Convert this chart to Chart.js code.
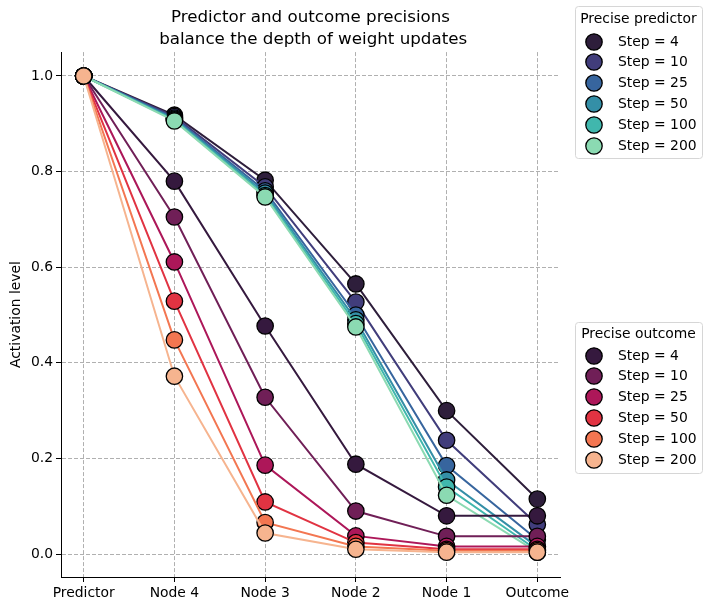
<!DOCTYPE html>
<html><head><meta charset="utf-8">
<script src="https://cdn.jsdelivr.net/npm/chart.js@4/dist/chart.umd.min.js"></script>
<style>html,body{margin:0;padding:0;background:#fff;}#wrap{width:712px;height:611px;position:relative;}</style>
</head><body><div id="wrap"><canvas id="c" width="712" height="611"></canvas></div>
<script>
const categories = ['Predictor', 'Node 4', 'Node 3', 'Node 2', 'Node 1', 'Outcome'];
const steps = [4, 10, 25, 50, 100, 200];
const yTicks = [0, 0.2, 0.4, 0.6, 0.8, 1.0];

const predStep4   = [1, 0.918, 0.782, 0.565, 0.300, 0.115];
const predStep10  = [1, 0.915, 0.768, 0.527, 0.238, 0.062];
const predStep25  = [1, 0.912, 0.760, 0.500, 0.185, 0.030];
const predStep50  = [1, 0.910, 0.755, 0.490, 0.155, 0.015];
const predStep100 = [1, 0.908, 0.750, 0.482, 0.140, 0.008];
const predStep200 = [1, 0.906, 0.747, 0.475, 0.123, 0.004];

const outStep4   = [1, 0.780, 0.477, 0.188, 0.080, 0.080];
const outStep10  = [1, 0.705, 0.328, 0.090, 0.037, 0.037];
const outStep25  = [1, 0.611, 0.186, 0.038, 0.016, 0.016];
const outStep50  = [1, 0.529, 0.109, 0.024, 0.010, 0.010];
const outStep100 = [1, 0.448, 0.066, 0.016, 0.007, 0.007];
const outStep200 = [1, 0.372, 0.044, 0.010, 0.004, 0.004];

const predColors = ['#2e1e3b', '#413d7b', '#37659e', '#348fa7', '#40b7ad', '#8bdab2'];
const outColors  = ['#35193e', '#701f57', '#ad1759', '#e13342', '#f37651', '#f6b48f'];

const predSeries = [predStep4, predStep10, predStep25, predStep50, predStep100, predStep200];
const outSeries  = [outStep4, outStep10, outStep25, outStep50, outStep100, outStep200];

const FONT = "'DejaVu Sans', sans-serif";
const datasets = [];
let k = 0;
function addGroup(series, colors, group) {
  series.forEach((vals, i) => {
    datasets.push({
      label: 'Step = ' + steps[i],
      group: group,
      data: vals.map((v, j) => ({x: j, y: v})),
      borderColor: colors[i],
      backgroundColor: colors[i],
      pointBackgroundColor: colors[i],
      pointBorderColor: '#000',
      pointBorderWidth: 1.3,
      pointRadius: 8.2,
      pointHoverRadius: 8.2,
      borderWidth: 2,
      tension: 0,
      order: 12 - k
    });
    k++;
  });
}
addGroup(predSeries, predColors, 'Precise predictor');
addGroup(outSeries, outColors, 'Precise outcome');

const legendPlugin = {
  id: 'twoLegends',
  afterDraw(chart) {
    const ctx = chart.ctx;
    const boxes = [
      {title: 'Precise predictor', group: 'Precise predictor', top: 6, bottom: 158, titleY: 19, rows: [42, 62, 83, 104, 125, 146]},
      {title: 'Precise outcome', group: 'Precise outcome', top: 322, bottom: 473, titleY: 334, rows: [356, 376, 397, 418, 439, 460]}
    ];
    const left = 575, right = 702;
    boxes.forEach(b => {
      ctx.save();
      ctx.beginPath();
      ctx.roundRect(left + 0.5, b.top + 0.5, right - left, b.bottom - b.top, 3);
      ctx.fillStyle = 'rgba(255,255,255,0.8)';
      ctx.fill();
      ctx.strokeStyle = '#d6d6d6';
      ctx.lineWidth = 1;
      ctx.stroke();
      ctx.fillStyle = '#000';
      ctx.font = '13.9px ' + FONT;
      ctx.textAlign = 'center';
      ctx.textBaseline = 'middle';
      ctx.fillText(b.title, (left + right) / 2, b.titleY);
      const ds = chart.data.datasets.filter(d => d.group === b.group);
      ds.forEach((d, i) => {
        const y = b.rows[i];
        ctx.beginPath();
        ctx.arc(594, y, 8.2, 0, Math.PI * 2);
        ctx.fillStyle = d.pointBackgroundColor;
        ctx.fill();
        ctx.lineWidth = 1.3;
        ctx.strokeStyle = '#000';
        ctx.stroke();
        ctx.fillStyle = '#000';
        ctx.textAlign = 'left';
        ctx.fillText(d.label, 618, y);
      });
      ctx.restore();
    });
  }
};

new Chart(document.getElementById('c'), {
  type: 'line',
  data: {datasets: datasets},
  options: {
    responsive: false,
    animation: false,
    events: [],
    layout: {padding: {left: 0, right: 152, top: 0, bottom: 0}},
    plugins: {
      legend: {display: false},
      tooltip: {enabled: false},
      title: {
        display: true,
        fullSize: false,
        text: ['Predictor and outcome precisions', ' balance the depth of weight updates'],
        color: '#000',
        font: {family: FONT, size: 16.7, weight: 'normal', lineHeight: 1.32},
        padding: {top: 7, bottom: 1}
      }
    },
    scales: {
      x: {
        type: 'linear',
        min: -0.25,
        max: 5.25,
        afterBuildTicks: s => { s.ticks = categories.map((c, i) => ({value: i})); },
        afterFit: s => { s.height = 34; },
        ticks: {
          color: '#000',
          font: {family: FONT, size: 13.9},
          padding: 3,
          maxRotation: 0,
          autoSkip: false,
          callback: v => categories[v]
        },
        grid: {color: '#b0b0b0', lineWidth: 1, tickLength: 5, tickColor: '#000', tickBorderDash: [], offset: false},
        border: {display: true, color: '#000', width: 1, dash: [4, 2]}
      },
      y: {
        type: 'linear',
        min: -0.048,
        max: 1.05,
        afterBuildTicks: s => { s.ticks = yTicks.map(v => ({value: v})); },
        afterFit: s => { s.width = 61; },
        title: {
          display: true,
          text: 'Activation level',
          color: '#000',
          font: {family: FONT, size: 13.9},
          padding: {top: 8, bottom: 0}
        },
        ticks: {
          color: '#000',
          font: {family: FONT, size: 13.9},
          padding: 3,
          callback: v => v.toFixed(1)
        },
        grid: {color: '#b0b0b0', lineWidth: 1, tickLength: 5, tickColor: '#000', tickBorderDash: []},
        border: {display: true, color: '#000', width: 1, dash: [4, 2]}
      }
    }
  },
  plugins: [legendPlugin]
});
</script>
</body></html>
